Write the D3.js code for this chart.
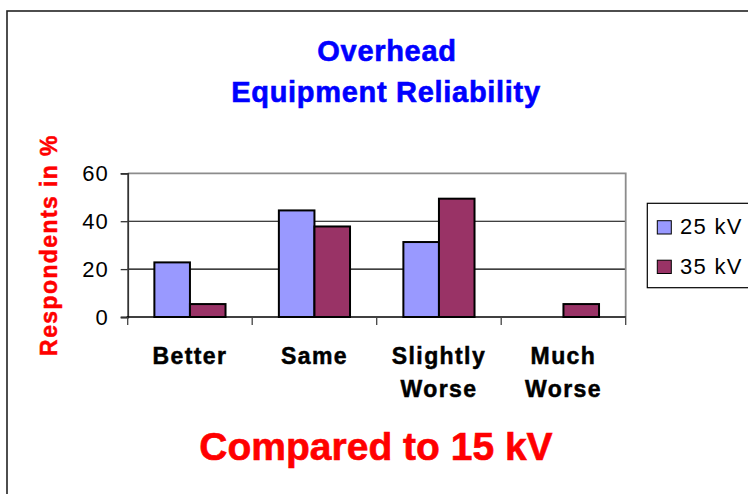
<!DOCTYPE html>
<html>
<head>
<meta charset="utf-8">
<script src="https://cdn.jsdelivr.net/npm/d3@7"></script>
<style>
  body { margin: 0; background: #fff; }
  svg { display: block; font-family: "Liberation Sans", Arial, sans-serif; }
</style>
</head>
<body>
<svg id="chart" width="748" height="494"></svg>
<script>
// chart data
const categories = [["Better"], ["Same"], ["Slightly", "Worse"], ["Much", "Worse"]];
const seriesNames = ["25 kV", "35 kV"];
const values25 = [22.8, 44.5, 31.3, 0];
const values35 = [5.4, 37.8, 49.4, 5.4];
const yTicks = [0, 20, 40, 60];
const colors = ["#9999FF", "#993366"];

const svg = d3.select('#chart');
const plot = {left: 127.7, right: 625.7, top: 173.3, bottom: 317};

// outer chart border
svg.append('rect')
    .attr('x', 7).attr('y', 11)
    .attr('width', 760).attr('height', 500)
    .attr('fill', 'none')
    .attr('stroke', '#222')
    .attr('stroke-width', 1.6);

let catKeys = categories.map(d => d.join(' '));
let x0 = d3.scaleBand().domain(catKeys).range([plot.left, plot.right]).padding(0);
let x1 = d3.scaleBand().domain(seriesNames).range([0, x0.bandwidth()])
    .paddingInner(0).paddingOuter(0.75);
let y = d3.scaleLinear().domain([0, 60]).range([plot.bottom, plot.top]);

// gridlines
svg.append('g').selectAll('line')
    .data(yTicks.filter(d => d > 0 && d < 60))
    .enter().append('line')
    .attr('x1', plot.left).attr('x2', plot.right)
    .attr('y1', d => y(d)).attr('y2', d => y(d))
    .attr('stroke', '#000').attr('stroke-width', 1.1);

// plot frame top + right (gray)
svg.append('path')
    .attr('d', `M${plot.left},${y(60)}H${plot.right}V${plot.bottom}`)
    .attr('fill', 'none')
    .attr('stroke', '#8c8c8c')
    .attr('stroke-width', 1.8);

// bars
let barData = [];
catKeys.forEach((c, i) => {
    barData.push({cat: c, s: seriesNames[0], v: values25[i], col: colors[0]});
    barData.push({cat: c, s: seriesNames[1], v: values35[i], col: colors[1]});
});
svg.append('g').selectAll('rect')
    .data(barData.filter(d => d.v > 0))
    .enter().append('rect')
    .attr('x', d => x0(d.cat) + x1(d.s))
    .attr('width', x1.bandwidth())
    .attr('y', d => y(d.v))
    .attr('height', d => y(0) - y(d.v))
    .attr('fill', d => d.col)
    .attr('stroke', '#000')
    .attr('stroke-width', 2);

// y axis
let yAxis = svg.append('g')
    .attr('transform', 'translate(' + plot.left + ',0)')
    .call(d3.axisLeft(y).tickValues(yTicks).tickSize(7).tickPadding(12));
yAxis.select('.domain').attr('stroke', '#333').attr('stroke-width', 1.8);
yAxis.selectAll('.tick line').attr('stroke', '#333').attr('stroke-width', 1.3);
yAxis.selectAll('.tick text')
    .attr('font-size', '22px')
    .attr('font-family', '"Liberation Sans", Arial, sans-serif')
    .attr('letter-spacing', '1px')
    .attr('fill', '#000');

// x axis line + ticks at band edges
svg.append('line')
    .attr('x1', plot.left - 1).attr('x2', plot.right)
    .attr('y1', y(0)).attr('y2', y(0))
    .attr('stroke', '#000').attr('stroke-width', 1.6);
let edges = catKeys.map(c => x0(c)).concat([x0.range()[1]]);
svg.append('g').selectAll('line')
    .data(edges)
    .enter().append('line')
    .attr('x1', d => d).attr('x2', d => d)
    .attr('y1', y(0)).attr('y2', y(0) + 8)
    .attr('stroke', '#444').attr('stroke-width', 1.3);

// category labels
let catLabels = svg.append('g').selectAll('text')
    .data(categories)
    .enter().append('text')
    .attr('x', (d, i) => x0(catKeys[i]) + x0.bandwidth() / 2)
    .attr('y', 364.3)
    .attr('text-anchor', 'middle')
    .attr('font-size', '23px')
    .attr('font-weight', 'bold')
    .attr('letter-spacing', '1.4px')
    .attr('fill', '#000')
    .attr('stroke', '#000').attr('stroke-width', 0.5);
catLabels.selectAll('tspan')
    .data(d => d)
    .enter().append('tspan')
    .attr('x', function() { return d3.select(this.parentNode).attr('x'); })
    .attr('dy', (d, i) => i === 0 ? 0 : 32.4)
    .text(d => d);

// y axis title
svg.append('text')
    .attr('transform', 'translate(57.3,245) rotate(-90)')
    .attr('text-anchor', 'middle')
    .attr('font-size', '23px')
    .attr('font-weight', 'bold')
    .attr('letter-spacing', '1.4px')
    .attr('fill', '#FF0000')
    .attr('stroke', '#FF0000').attr('stroke-width', 0.5)
    .text('Respondents in %');

// chart title
let title = svg.append('text')
    .attr('text-anchor', 'middle')
    .attr('font-size', '29px')
    .attr('font-weight', 'bold')
    .attr('letter-spacing', '0.7px')
    .attr('fill', '#0000FF')
    .attr('stroke', '#0000FF').attr('stroke-width', 0.6);
title.append('tspan').attr('x', 387).attr('y', 60.7).text('Overhead');
title.append('tspan').attr('x', 386).attr('y', 101.7).text('Equipment Reliability');

// bottom caption
svg.append('text')
    .attr('x', 376).attr('y', 459.5)
    .attr('text-anchor', 'middle')
    .attr('font-size', '39px')
    .attr('font-weight', 'bold')
    .attr('fill', '#FF0000')
    .attr('stroke', '#FF0000').attr('stroke-width', 0.6)
    .text('Compared to 15 kV');

// legend
let legend = svg.append('g');
legend.append('rect')
    .attr('x', 647.3).attr('y', 203.3)
    .attr('width', 120).attr('height', 84.4)
    .attr('fill', '#fff')
    .attr('stroke', '#000').attr('stroke-width', 1.2);
let items = legend.selectAll('g.item')
    .data(seriesNames)
    .enter().append('g')
    .attr('transform', (d, i) => 'translate(657.3,' + (220.7 + i * 39.5) + ')');
items.append('rect')
    .attr('width', 14).attr('height', 13.3)
    .attr('fill', (d, i) => colors[i])
    .attr('stroke', '#000').attr('stroke-width', 1);
items.append('text')
    .attr('x', 22.7).attr('y', 13.3)
    .attr('font-size', '22px')
    .attr('letter-spacing', '1.3px')
    .attr('fill', '#000')
    .text(d => d);
</script>
</body>
</html>
